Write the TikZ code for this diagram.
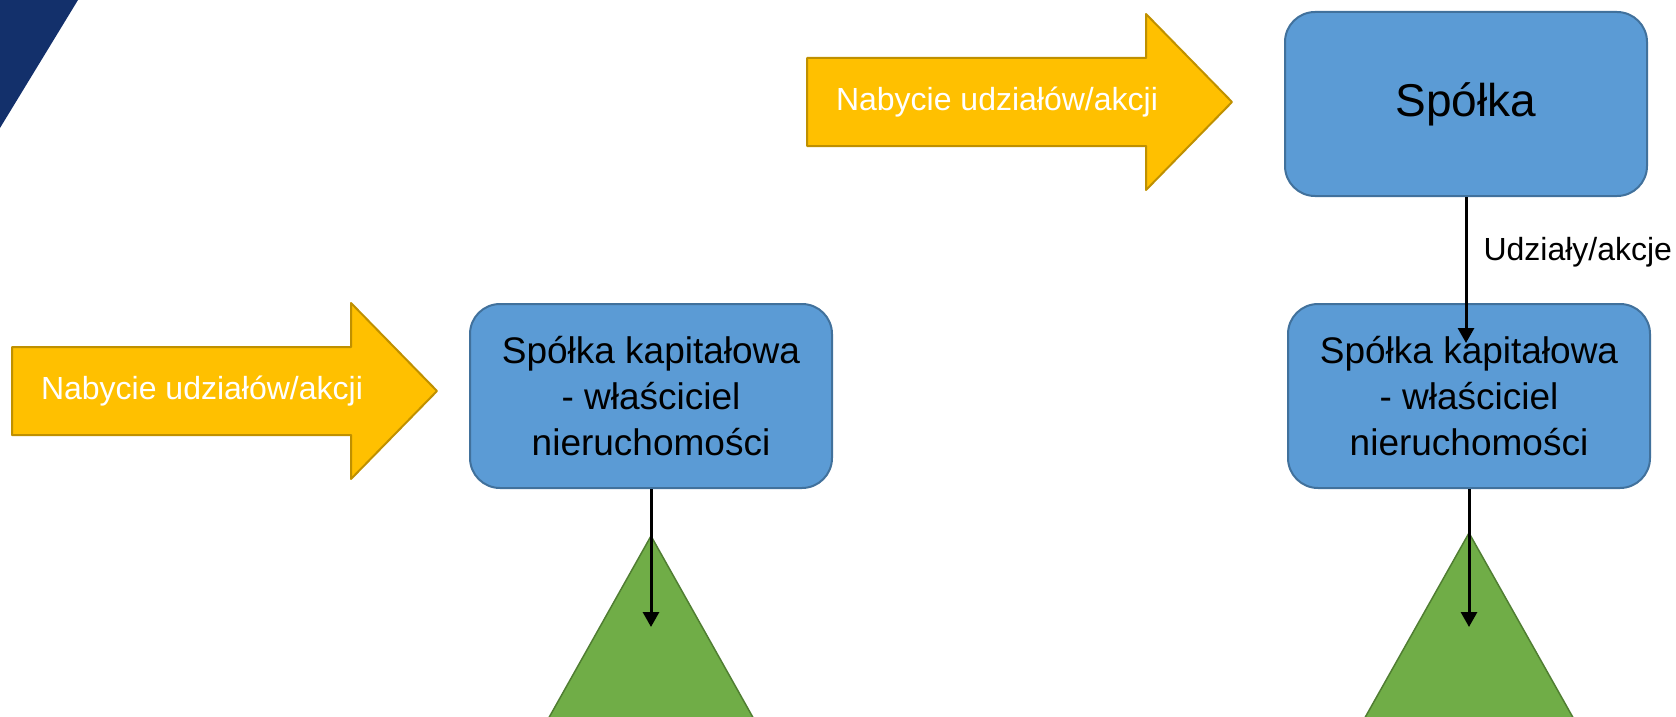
\documentclass[tikz,border=0pt]{standalone}
\usepackage{fontspec}
\setmainfont{Liberation Sans}
\usetikzlibrary{arrows.meta}
\definecolor{granat}{HTML}{13306B}
\definecolor{zolty}{HTML}{FFC000}
\definecolor{zoltyb}{HTML}{BF9000}
\definecolor{niebieski}{HTML}{5B9BD5}
\definecolor{niebieskib}{HTML}{41719C}
\definecolor{zielony}{HTML}{70AD47}
\definecolor{zielonyb}{HTML}{507E32}
\begin{document}
\begin{tikzpicture}[x=1pt,y=-1pt,>={Triangle[width=16pt,length=15pt]},line join=round,
	box/.style={draw=niebieskib,line width=2pt,fill=niebieski,rounded corners=30pt,minimum width=362pt,minimum height=184pt,align=center,inner sep=0pt,font=\fontsize{37pt}{46pt}\selectfont},
	yarrow/.style={draw=zoltyb,line width=2pt,fill=zolty},
	tri/.style={draw=zielonyb,line width=1.5pt,fill=zielony},
	conn/.style={->,line width=3pt},
	arrowtext/.style={text=white,font=\fontsize{32pt}{38pt}\selectfont}]
	\useasboundingbox (0,0) rectangle (1676,717);
	\clip (0,0) rectangle (1676,717);
	\fill[granat] (0,0) -- (78,0) -- (0,128) -- cycle;
	\foreach \x/\y/\n in {807/102/nabycieA,12/391/nabycieB}{
		\draw[yarrow] (\x,\y-44) -- (\x+339,\y-44) -- (\x+339,\y-88) -- (\x+425,\y) -- (\x+339,\y+88) -- (\x+339,\y+44) -- (\x,\y+44) -- cycle;
		\node[arrowtext] (\n) at (\x+190,\y) {Nabycie udziałów/akcji};
	}
	\draw[tri] (651,536) -- (542,730) -- (760,730) -- cycle;
	\draw[tri] (1469,533) -- (1358,730) -- (1580,730) -- cycle;
	\node[box,font=\fontsize{46pt}{55pt}\selectfont] (spolka) at (1466,104) {Spółka};
	\node[box] (kapL) at (651,396) {Spółka kapitałowa\\- właściciel\\nieruchomości};
	\node[box] (kapR) at (1469,396) {Spółka kapitałowa\\- właściciel\\nieruchomości};
	\path (1466,343) coordinate (udzEnd) (651,627) coordinate (trojL) (1469,627) coordinate (trojR);
	\draw[conn] (spolka) -- node[right=16pt,pos=.38,inner sep=0pt,font=\fontsize{32pt}{38pt}\selectfont] (udzialy) {Udziały/akcje} (udzEnd);
	\draw[conn] (kapL) -- (trojL);
	\draw[conn] (kapR) -- (trojR);
\end{tikzpicture}
\end{document}
